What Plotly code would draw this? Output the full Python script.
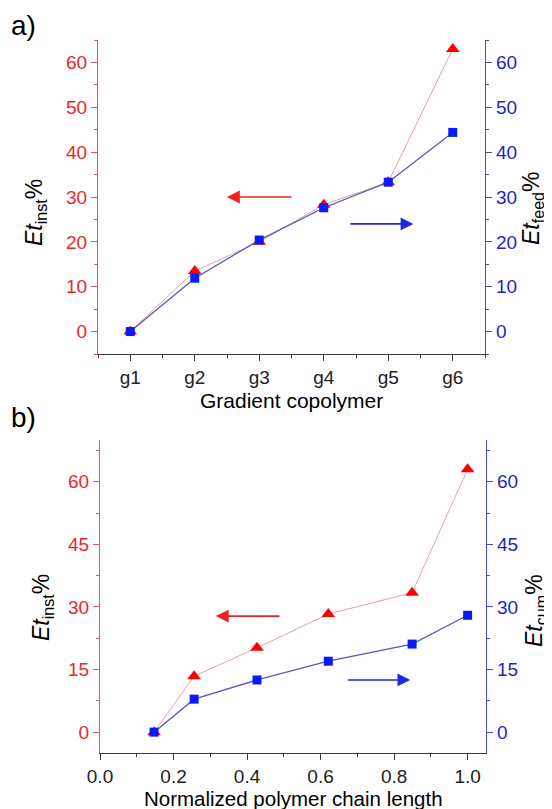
import plotly.graph_objects as go

# ---- data ----
copolymers = ["g1", "g2", "g3", "g4", "g5", "g6"]
et_inst_a = [0, 13.5, 20.0, 28.3, 33.3, 63.0]
et_feed_a = [0, 11.9, 20.4, 27.6, 33.3, 44.4]

chain_length = [0.147, 0.256, 0.427, 0.621, 0.849, 1.0]
et_inst_b = [0, 13.4, 20.2, 28.3, 33.4, 63.0]
et_cum_b = [0, 7.9, 12.5, 17.0, 21.1, 28.0]

y_ticks_a = [0, 10, 20, 30, 40, 50, 60]
y_ticks_b = [0, 15, 30, 45, 60]
x_ticks_b = [0.0, 0.2, 0.4, 0.6, 0.8, 1.0]

# ---- styles ----
FONT = "Liberation Sans, Arial, sans-serif"
RED = "#e8282c"
RED_AX = "#e05a5e"
RED_LINE = "#e0a4a4"
RED_MK = "#ff0000"
BLUE = "#2424c4"
BLUE_AX = "#4a4ab4"
BLUE_LINE = "#5858b8"
BLUE_MK = "#0a1aff"
BLACK_AX = "#3a3a3a"
TICK_SIZE = 19

# page has an 8px body margin; figure sized so that it fits the 552x809 window
OFF = 8
W, H = 552 - OFF, 809 - OFF

def px(x):
    return (x - OFF) / W

def py(y):
    return 1 - (y - OFF) / H

xa_dom = [px(98), px(485)]
xb_dom = [px(100), px(486)]
ya_dom = [py(354), py(40)]
yb_dom = [py(753), py(440)]

xa = list(range(1, len(copolymers) + 1))

fig = go.Figure()
fig.add_trace(go.Scatter(x=xa, y=et_inst_a, xaxis="x", yaxis="y", mode="lines+markers",
                         line=dict(color=RED_LINE, width=1),
                         marker=dict(symbol="triangle-up", size=12, color=RED_MK),
                         showlegend=False))
fig.add_trace(go.Scatter(x=xa, y=et_feed_a, xaxis="x", yaxis="y2", mode="lines+markers",
                         line=dict(color=BLUE_LINE, width=1.3),
                         marker=dict(symbol="square", size=9, color=BLUE_MK),
                         showlegend=False))
fig.add_trace(go.Scatter(x=chain_length, y=et_inst_b, xaxis="x2", yaxis="y3", mode="lines+markers",
                         line=dict(color=RED_LINE, width=1),
                         marker=dict(symbol="triangle-up", size=12, color=RED_MK),
                         showlegend=False))
fig.add_trace(go.Scatter(x=chain_length, y=et_cum_b, xaxis="x2", yaxis="y4", mode="lines+markers",
                         line=dict(color=BLUE_LINE, width=1.3),
                         marker=dict(symbol="square", size=9, color=BLUE_MK),
                         showlegend=False))

tickfont_k = dict(family=FONT, size=TICK_SIZE, color="#222222")
tickfont_r = dict(family=FONT, size=TICK_SIZE, color=RED)
tickfont_b = dict(family=FONT, size=TICK_SIZE, color=BLUE)

common_x = dict(showgrid=False, zeroline=False, showline=True, linecolor=BLACK_AX, linewidth=1.2,
                ticks="outside", ticklen=6, tickcolor=BLACK_AX, tickfont=tickfont_k, automargin=False)

def yax(color, tickfont, domain, rng, tickvals, minor_dtick, side, anchor, overlay=None):
    d = dict(domain=domain, range=rng, tickvals=tickvals, side=side, anchor=anchor, automargin=False,
             showgrid=False, zeroline=False, showline=True, linecolor=color, linewidth=1.2,
             ticks="outside", ticklen=6, tickcolor=color, tickfont=tickfont,
             minor=dict(dtick=minor_dtick, tick0=0, ticks="outside", ticklen=3, tickcolor=color, showgrid=False))
    if overlay:
        d["overlaying"] = overlay
    return d

def top_ax(domain, rng, tickvals, anchor, overlay, mtick0, mdtick):
    return dict(domain=domain, range=rng, anchor=anchor, overlaying=overlay, side="top", automargin=False,
                showgrid=False, zeroline=False, showline=True, linecolor=BLACK_AX, linewidth=1.2,
                ticks="inside", ticklen=6, tickcolor=BLACK_AX, tickvals=tickvals, showticklabels=False,
                minor=dict(tick0=mtick0, dtick=mdtick, ticks="inside", ticklen=3, tickcolor=BLACK_AX, showgrid=False))

fig.update_layout(
    width=W, height=H,
    margin=dict(l=0, r=0, t=0, b=0, pad=0, autoexpand=False),
    paper_bgcolor="white", plot_bgcolor="white",
    font=dict(family=FONT),
    xaxis=dict(domain=xa_dom, range=[0.5, 6.5], anchor="y", tickvals=xa, ticktext=copolymers,
               minor=dict(tick0=0.5, dtick=0.5, ticks="outside", ticklen=3, tickcolor=BLACK_AX, showgrid=False),
               **common_x),
    xaxis3=top_ax(xa_dom, [0.5, 6.5], xa, "y", "x", 0.5, 0.5),
    xaxis2=dict(domain=xb_dom, range=[0, 1.05], anchor="y3", tickvals=x_ticks_b, tickformat=".1f",
                minor=dict(tick0=0, dtick=0.1, ticks="outside", ticklen=3, tickcolor=BLACK_AX, showgrid=False),
                **common_x),
    xaxis4=top_ax(xb_dom, [0, 1.05], x_ticks_b, "y3", "x2", 0, 0.1),
    yaxis=yax(RED_AX, tickfont_r, ya_dom, [-5, 65], y_ticks_a, 5, "left", "x"),
    yaxis2=yax(BLUE_AX, tickfont_b, ya_dom, [-5, 65], y_ticks_a, 5, "right", "x", overlay="y"),
    yaxis3=yax(RED_AX, tickfont_r, yb_dom, [-5, 70], y_ticks_b, 7.5, "left", "x2"),
    yaxis4=yax(BLUE_AX, tickfont_b, yb_dom, [-5, 70], y_ticks_b, 7.5, "right", "x2", overlay="y3"),
)

ann = []
# panel labels
ann.append(dict(text="a)", x=px(9), y=py(25), xref="paper", yref="paper", xanchor="left", yanchor="middle",
                showarrow=False, font=dict(family=FONT, size=28, color="black")))
ann.append(dict(text="b)", x=px(9), y=py(417), xref="paper", yref="paper", xanchor="left", yanchor="middle",
                showarrow=False, font=dict(family=FONT, size=28, color="black")))
# y titles
tf = dict(family=FONT, size=23, color="black")
for txt, xp, yp in [("<i>Et</i><sub>inst</sub>%", 36, 213), ("<i>Et</i><sub>feed</sub>%", 533, 208),
                    ("<i>Et</i><sub>inst</sub>%", 42, 608), ("<i>Et</i><sub>cum</sub>%", 535, 611)]:
    ann.append(dict(text=txt, x=px(xp), y=py(yp), xref="paper", yref="paper", textangle=-90,
                    xanchor="center", yanchor="middle", showarrow=False, font=tf))
# x titles
ann.append(dict(text="Gradient copolymer", x=px(291), y=py(400), xref="paper", yref="paper",
                xanchor="center", yanchor="middle", showarrow=False, font=dict(family=FONT, size=21, color="black")))
ann.append(dict(text="Normalized polymer chain length", x=px(293), y=py(798), xref="paper", yref="paper",
                xanchor="center", yanchor="middle", showarrow=False, font=dict(family=FONT, size=20.5, color="black")))
# arrows
def arrow(x, y, ax, ay, xr, yr, color):
    return dict(x=x, y=y, ax=ax, ay=ay, xref=xr, yref=yr, axref=xr, ayref=yr, text="", showarrow=True,
                arrowhead=2, arrowsize=1.6, arrowwidth=1.6, arrowcolor=color)
ann.append(arrow(2.5, 30, 3.52, 30, "x", "y", "#ee2020"))
ann.append(arrow(5.39, 24, 4.39, 24, "x", "y2", "#1a2ae8"))
ann.append(arrow(0.315, 27.8, 0.492, 27.8, "x2", "y3", "#ee2020"))
ann.append(arrow(0.844, 12.5, 0.670, 12.5, "x2", "y4", "#1a2ae8"))
fig.update_layout(annotations=ann)

fig.write_html("out.html")
